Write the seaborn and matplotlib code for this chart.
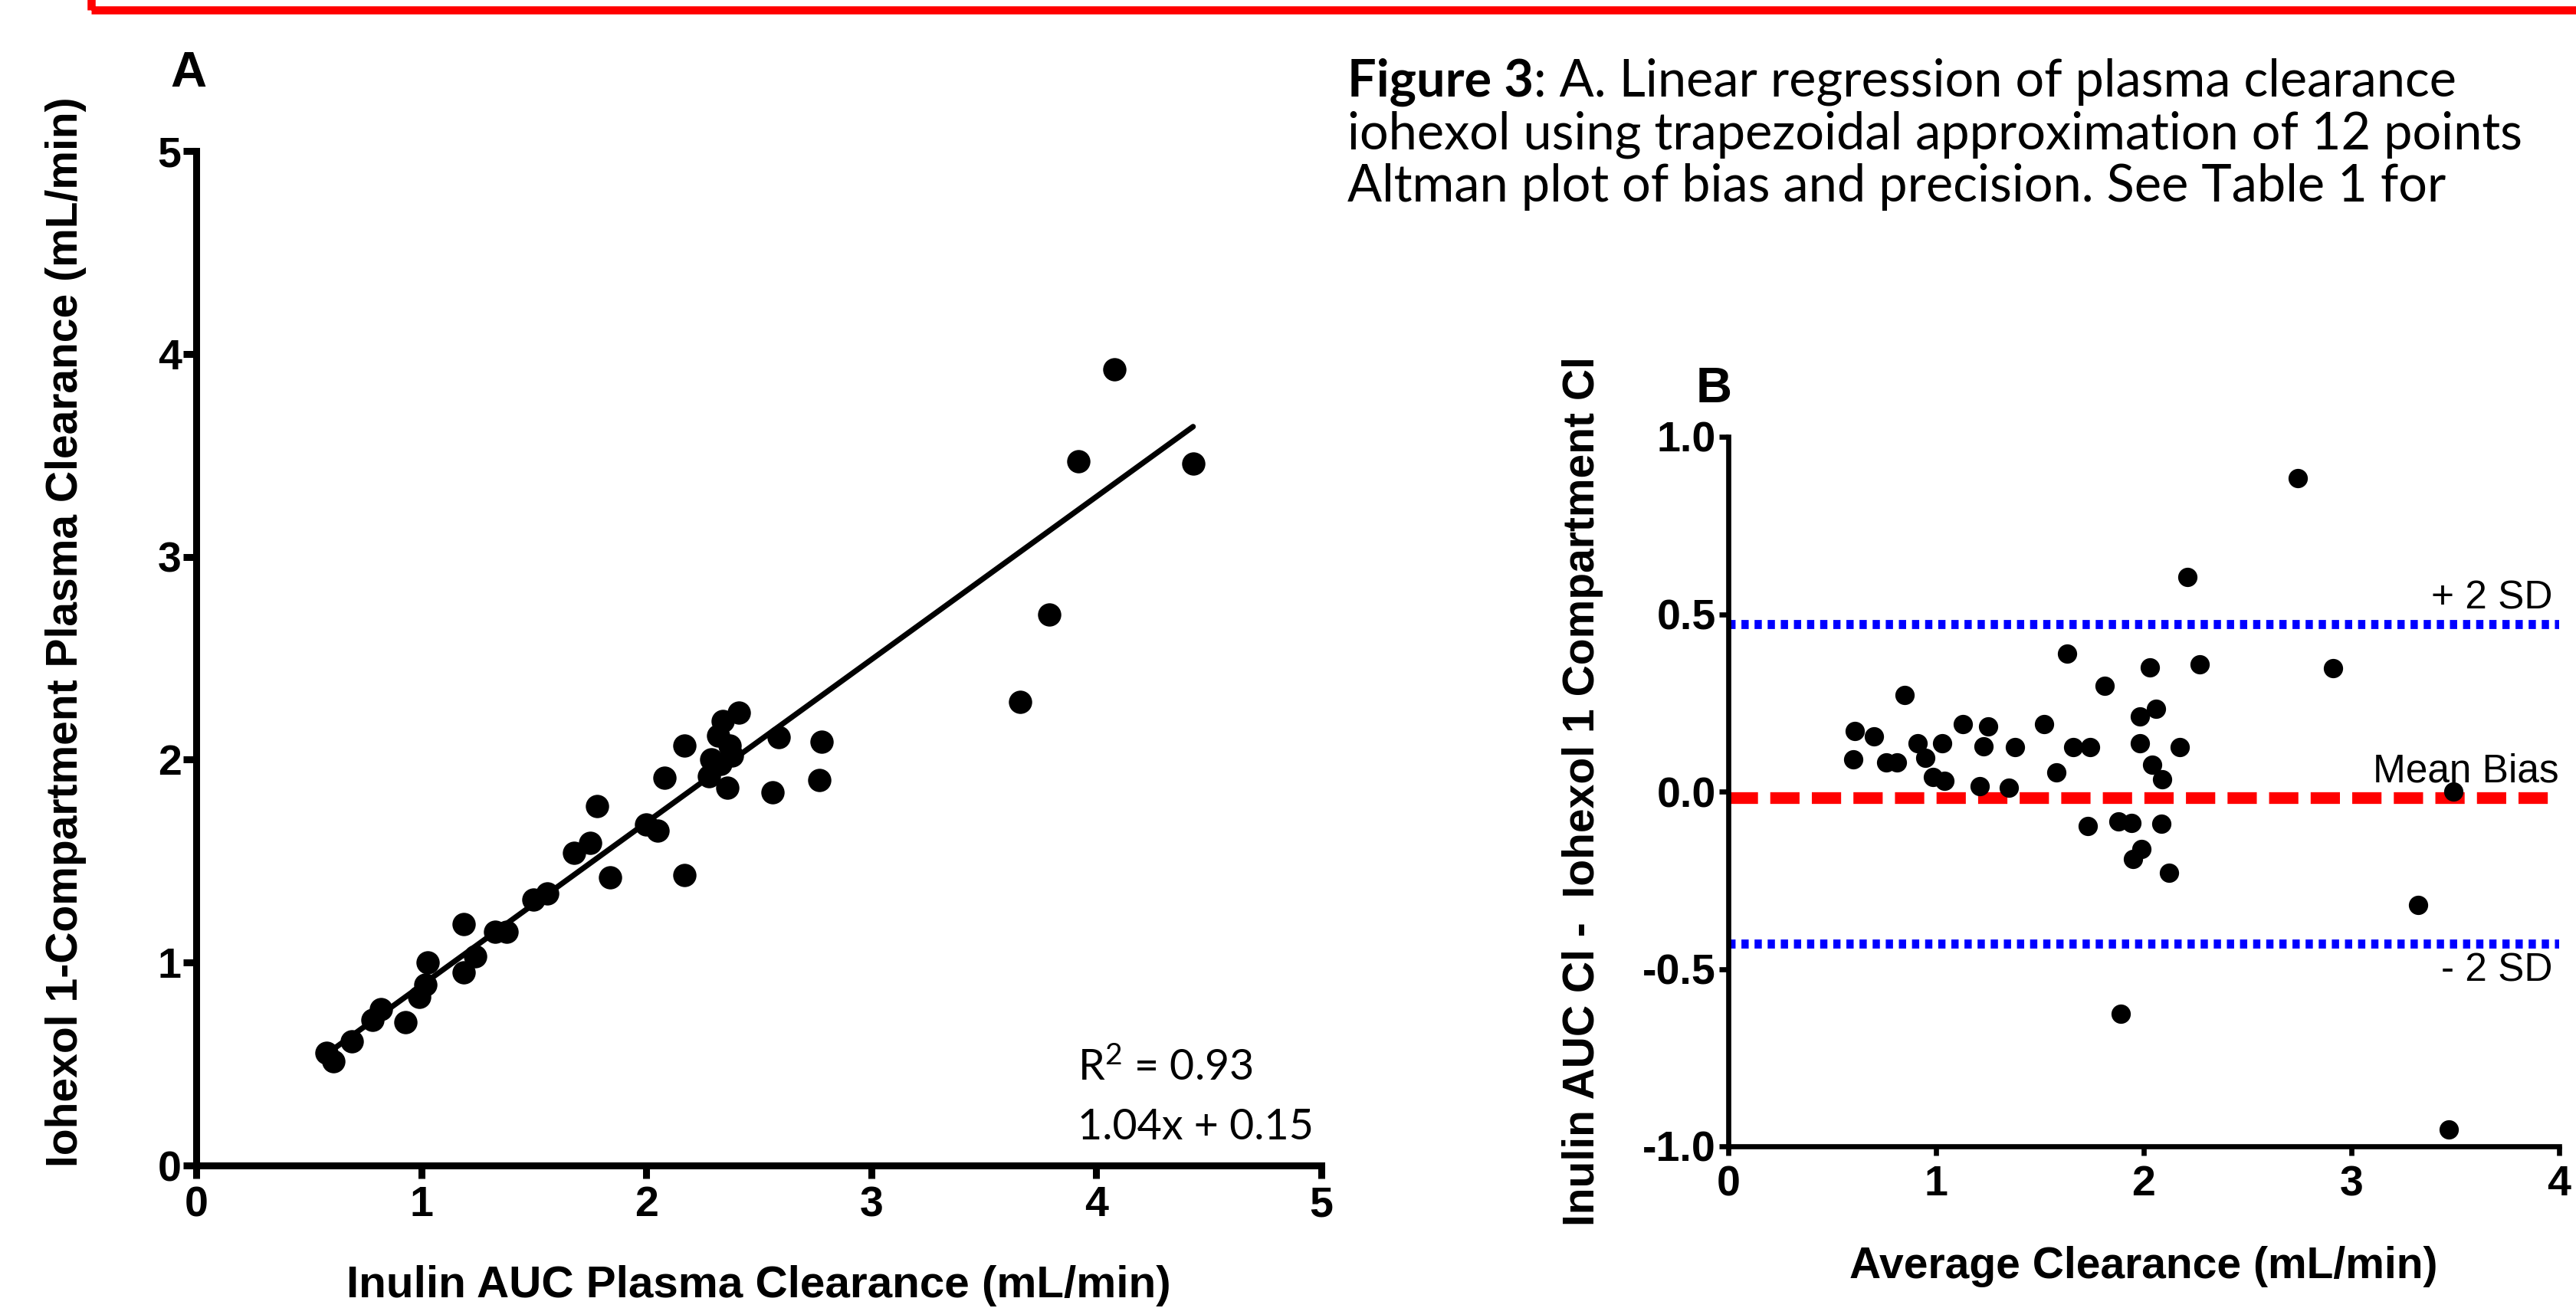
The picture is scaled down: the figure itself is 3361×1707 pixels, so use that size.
import numpy as np
import pandas as pd
import matplotlib
matplotlib.use("Agg")
import matplotlib.pyplot as plt
import seaborn as sns
from matplotlib.patches import Rectangle

# ---------------- data ----------------
inulin_auc = [0.58, 0.61, 0.69, 0.785, 0.82, 0.93, 0.99, 1.02, 1.03, 1.19, 1.19,
              1.24, 1.33, 1.38, 1.50, 1.56, 1.68, 1.75, 1.78, 1.84, 2.00, 2.05,
              2.08, 2.17, 2.17, 2.28, 2.29, 2.32, 2.34, 2.37, 2.36, 2.41, 2.33,
              2.38, 2.56, 2.59, 2.78, 2.77, 3.66, 3.79, 3.92, 4.08, 4.43]
iohexol_1c = [0.554, 0.514, 0.61, 0.716, 0.77, 0.705, 0.83, 0.89, 1.00, 1.19, 0.95,
              1.03, 1.15, 1.15, 1.31, 1.34, 1.54, 1.59, 1.77, 1.42, 1.68, 1.65,
              1.91, 2.07, 1.43, 1.92, 2.00, 2.12, 2.19, 2.07, 1.86, 2.23, 1.98,
              2.02, 1.84, 2.11, 2.09, 1.90, 2.285, 2.715, 3.47, 3.925, 3.46]

# fitted line as drawn in the figure (slope / intercept)
fit_slope = 0.803
fit_intercept = 0.084

avg_clearance = [0.61, 0.60, 0.70, 0.76, 0.81, 0.85, 0.91, 0.95, 0.985, 1.03, 1.04,
                 1.13, 1.21, 1.23, 1.25, 1.35, 1.38, 1.52, 1.58, 1.63, 1.66, 1.74,
                 1.73, 1.81, 1.88, 1.94, 1.89, 1.95, 1.99, 1.98, 1.98, 2.03, 2.04,
                 2.06, 2.085, 2.09, 2.12, 2.175, 2.21, 2.27, 2.74, 2.91, 3.32, 3.49,
                 3.47]
cl_difference = [0.171, 0.091, 0.155, 0.083, 0.083, 0.272, 0.137, 0.094, 0.040, 0.137,
                 0.031, 0.189, 0.015, 0.128, 0.184, 0.010, 0.125, 0.189, 0.055, 0.388,
                 0.125, 0.125, -0.098, 0.297, -0.085, -0.089, -0.627, -0.189, -0.162,
                 0.137, 0.211, 0.349, 0.076, 0.234, -0.091, 0.035, -0.229, 0.126,
                 0.605, 0.358, 0.883, 0.347, -0.320, 0.001, -0.953]

upper_sd = 0.471
mean_bias = -0.017
lower_sd = -0.430

a_ticks = [0, 1, 2, 3, 4, 5]
a_ticklabels = ["0", "1", "2", "3", "4", "5"]
b_xticks = [0, 1, 2, 3, 4]
b_xticklabels = ["0", "1", "2", "3", "4"]
b_yticks = [-1.0, -0.5, 0.0, 0.5, 1.0]
b_yticklabels = ["-1.0", "-0.5", "0.0", "0.5", "1.0"]

r2_text = "R$^{2}$ = 0.93"
eq_text = "1.04x + 0.15"
caption_bold = "Figure 3"
caption_lines = [": A. Linear regression of plasma clearance",
                 "iohexol using trapezoidal approximation of 12 points",
                 "Altman plot of bias and precision. See Table 1 for"]

dfA = pd.DataFrame({"inulin": inulin_auc, "iohexol": iohexol_1c})
dfB = pd.DataFrame({"avg": avg_clearance, "diff": cl_difference})
x_fit = np.array([min(inulin_auc), max(inulin_auc)])
dfFit = pd.DataFrame({"x": x_fit, "y": fit_slope * x_fit + fit_intercept})

# ---------------- style ----------------
sns.set_theme(style="ticks")
plt.rcParams['font.family'] = ['Liberation Sans', 'DejaVu Sans']
plt.rcParams['axes.unicode_minus'] = False
plt.rcParams['mathtext.fontset'] = 'custom'
plt.rcParams['mathtext.rm'] = 'Lato'
plt.rcParams['mathtext.it'] = 'Lato:italic'
plt.rcParams['mathtext.bf'] = 'Lato:bold'

W, H = 3361, 1707
fig = plt.figure(figsize=(W / 100, H / 100), dpi=100)
fig.patch.set_facecolor("white")

# red frame (bottom part of a box cut at top)
fig.add_artist(Rectangle((119 / W, 1 - 13 / H), 2.0, 0.5, transform=fig.transFigure,
                         fill=False, edgecolor="#FF0000", linewidth=7.6,
                         clip_on=False))

# ---------------- Panel A ----------------
axA = fig.add_axes([256 / W, 1 - 1521 / H, (1724 - 256) / W, (1521 - 197) / H])
sns.lineplot(data=dfFit, x="x", y="y", ax=axA, color="black", lw=5.2, zorder=2)
sns.scatterplot(data=dfA, x="inulin", y="iohexol", ax=axA, color="black",
                s=480, linewidth=0, zorder=3)
axA.set_xlim(0, 5)
axA.set_ylim(0, 5)
axA.set_xticks(a_ticks)
axA.set_xticklabels(a_ticklabels)
axA.set_yticks(a_ticks)
axA.set_yticklabels(a_ticklabels)
for s in ["top", "right"]:
    axA.spines[s].set_visible(False)
for s in ["left", "bottom"]:
    axA.spines[s].set_linewidth(6.5)
    axA.spines[s].set_color("black")
axA.tick_params(axis="both", which="major", length=12.5, width=6.5, color="black",
                labelsize=40, labelcolor="black")
axA.tick_params(axis="y", pad=1.5)
axA.tick_params(axis="x", pad=6.5)
for lab in axA.get_xticklabels() + axA.get_yticklabels():
    lab.set_fontweight("bold")
axA.set_xlabel("Inulin AUC Plasma Clearance (mL/min)", fontsize=42, fontweight="bold",
               va="center", color="black")
axA.set_ylabel("Iohexol 1-Compartment Plasma Clearance (mL/min)", fontsize=41,
               fontweight="bold", va="center", color="black")
axA.xaxis.set_label_coords(0.5, -0.1186)
axA.yaxis.set_label_coords(-0.1158, 0.5257)
axA.text(3.917, 0.419, r2_text, fontsize=40, family=["Lato", "DejaVu Sans"],
         ha="left", va="baseline", color="black")
axA.text(3.917, 0.128, eq_text, fontsize=40, family=["Lato", "DejaVu Sans"],
         ha="left", va="baseline", color="black")
axA.set_facecolor("white")

# ---------------- Panel B ----------------
axB = fig.add_axes([2255 / W, 1 - 1496 / H, (3339 - 2255) / W, (1496 - 570) / H])
axB.axhline(upper_sd, color="#0000FF", lw=8.5, ls=(0, (0.8, 0.65)),
            dash_capstyle="butt", zorder=2)
axB.axhline(lower_sd, color="#0000FF", lw=8.5, ls=(0, (0.8, 0.65)),
            dash_capstyle="butt", zorder=2)
axB.axhline(mean_bias, color="#FF0000", lw=11, ls=(0, (2.5, 1.05)),
            dash_capstyle="butt", zorder=2)
sns.scatterplot(data=dfB, x="avg", y="diff", ax=axB, color="black",
                s=330, linewidth=0, zorder=3)
axB.set_xlim(0, 4)
axB.set_ylim(-1.0, 1.0)
axB.set_xticks(b_xticks)
axB.set_xticklabels(b_xticklabels)
axB.set_yticks(b_yticks)
axB.set_yticklabels(b_yticklabels)
for s in ["top", "right"]:
    axB.spines[s].set_visible(False)
for s in ["left", "bottom"]:
    axB.spines[s].set_linewidth(4.8)
    axB.spines[s].set_color("black")
axB.tick_params(axis="both", which="major", length=8.5, width=4.8, color="black",
                labelsize=40, labelcolor="black")
axB.tick_params(axis="y", pad=3)
axB.tick_params(axis="x", pad=9)
for lab in axB.get_xticklabels() + axB.get_yticklabels():
    lab.set_fontweight("bold")
axB.set_xlabel("Average Clearance (mL/min)", fontsize=41, fontweight="bold",
               va="center", color="black")
axB.set_ylabel("Inulin AUC Cl -  Iohexol 1 Compartment Cl", fontsize=41,
               fontweight="bold", va="center", color="black")
axB.xaxis.set_label_coords(0.5, -0.1695)
axB.yaxis.set_label_coords(-0.1753, 0.5)
axB.text(3.97, 0.545, "+ 2 SD", fontsize=37, ha="right", va="center", color="black")
axB.text(4.0, 0.056, "Mean Bias", fontsize=37, ha="right", va="center", color="black",
         clip_on=False)
axB.text(3.97, -0.505, "- 2 SD", fontsize=37, ha="right", va="center", color="black")
axB.set_facecolor("white")

# ---------------- panel letters ----------------
fig.text(246 / W, 1 - 96 / H, "A", fontsize=47, fontweight="bold", ha="center",
         va="center", color="black")
fig.text(2236 / W, 1 - 508 / H, "B", fontsize=47, fontweight="bold", ha="center",
         va="center", color="black")

# ---------------- caption ----------------
cap_x = 1758 / W
base_y = [1 - 126 / H, 1 - 194.5 / H, 1 - 263 / H]
cap_font = ["Lato", "DejaVu Sans"]
cap_size = 48
tb = fig.text(cap_x, base_y[0], caption_bold, fontsize=cap_size, fontweight="bold",
              family=cap_font, ha="left", va="baseline", color="black")
fig.canvas.draw()
ext = tb.get_window_extent(renderer=fig.canvas.get_renderer())
fig.text(ext.x1 / W, base_y[0], caption_lines[0], fontsize=cap_size, family=cap_font,
         ha="left", va="baseline", color="black")
fig.text(cap_x, base_y[1], caption_lines[1], fontsize=cap_size, family=cap_font,
         ha="left", va="baseline", color="black")
fig.text(cap_x, base_y[2], caption_lines[2], fontsize=cap_size, family=cap_font,
         ha="left", va="baseline", color="black")

fig.savefig("out.png", dpi=100, facecolor="white")
